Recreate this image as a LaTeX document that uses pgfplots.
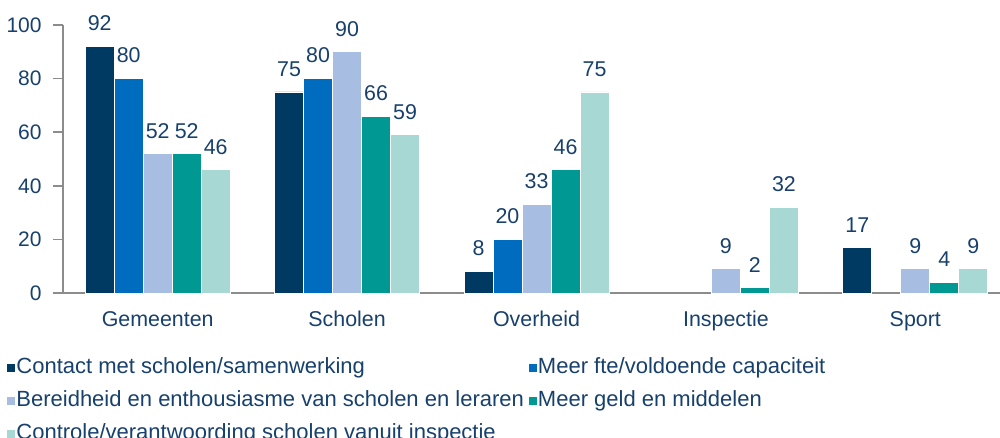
\documentclass[border=0pt]{standalone}
\usepackage{pgfplots}
\pgfplotsset{compat=1.18}
\usepackage{fontspec}
\setmainfont{Liberation Sans}
\definecolor{cA}{HTML}{003A63}
\definecolor{cB}{HTML}{006CC0}
\definecolor{cC}{HTML}{A7BEE2}
\definecolor{cD}{HTML}{009892}
\definecolor{cE}{HTML}{A8D8D4}
\definecolor{txt}{HTML}{17406D}
\definecolor{axc}{HTML}{8C8C8C}
\begin{document}
\begin{tikzpicture}
\fontsize{10.5}{12.6}\selectfont
\begin{axis}[
  at={(0,0)}, anchor=south west,
  scale only axis, width=473.5pt, height=134pt,
  xmin=-0.5, xmax=4.5, ymin=0, ymax=100,
  ytick={0,20,...,100},
  xtick={0,1,2,3,4},
  xticklabels={Gemeenten,Scholen,Overheid,Inspectie,Sport},
  extra x ticks={0.5,1.5,2.5,3.5},
  extra x tick labels={},
  extra x tick style={major tick length=5pt, tick style={axc, line width=0.8pt}},
  axis x line*=bottom, axis y line*=left,
  axis line style={axc, line width=0.8pt},
  x tick style={draw=none},
  y tick style={axc, line width=0.8pt},
  major tick length=5pt,
  tick align=outside,
  yticklabel style={font=\fontsize{10.5}{12.6}\selectfont, text=txt, xshift=-2pt},
  xticklabel style={font=\fontsize{10.7}{12.8}\selectfont, text=txt, yshift=-0.5pt},
  /pgf/number format/assume math mode=true,
  ybar=0pt, bar width=14.5pt,
  every axis plot/.append style={draw=white, line width=0.4pt},
  nodes near coords,
  nodes near coords style={font=\fontsize{10.7}{12.8}\selectfont, text=txt, yshift=4pt},
  legend columns=2,
  legend style={at={(-0.0591,-0.2388)}, anchor=north west, draw=none, fill=none,
    font=\fontsize{11}{13.2}\selectfont, text=txt, inner sep=0pt,
    row sep=6pt,
    /tikz/every even column/.append style={column sep=2pt},
    nodes={inner xsep=0.5pt, inner ysep=0pt, text height=8pt, text depth=2.5pt}},
  legend cell align=left,
  legend image code/.code={\fill[#1, draw=none] (0pt,-2pt) rectangle (4pt,2pt);},
  clip=false,
]
\addplot[fill=cA] coordinates {(0,92) (1,75) (2,8) (4,17)};
\addplot[fill=cB] coordinates {(0,80) (1,80) (2,20)};
\addplot[fill=cC] coordinates {(0,52) (1,90) (2,33) (3,9) (4,9)};
\addplot[fill=cD] coordinates {(0,52) (1,66) (2,46) (3,2) (4,4)};
\addplot[fill=cE] coordinates {(0,46) (1,59) (2,75) (3,32) (4,9)};
\legend{Contact met scholen/samenwerking, Meer fte/voldoende capaciteit, Bereidheid en enthousiasme van scholen en leraren, Meer geld en middelen, Controle/verantwoording scholen vanuit inspectie}
\end{axis}
\pgfresetboundingbox
\path[use as bounding box] (-31.5pt,-72.5pt) rectangle (468.5pt,146.5pt);
\end{tikzpicture}
\end{document}
